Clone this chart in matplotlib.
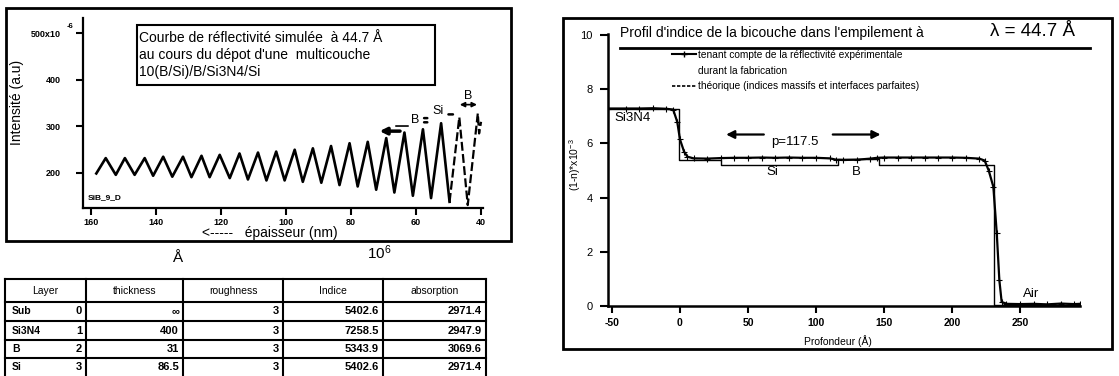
import matplotlib.pyplot as plt
from matplotlib.lines import Line2D
from matplotlib.patches import Rectangle

plt.rcParams['font.family'] = ['Liberation Sans', 'DejaVu Sans']
plt.rcParams['mathtext.default'] = 'regular'

W, H = 1119, 376

# left: simulated reflectivity vs thickness (peaks / troughs)
ep_nm = [158.4, 155.5, 152.4, 149.6, 146.6, 143.5, 140.9, 137.8, 135.0, 131.7,
         129.1, 126.0, 123.5, 120.4, 117.3, 114.3, 111.7, 108.6, 106.0, 103.0,
         100.4, 97.3, 94.8, 91.7, 89.1, 86.1, 83.5, 80.4, 77.9, 74.8,
         72.2, 69.1, 66.6, 63.5, 60.9, 57.8, 55.3, 52.2, 49.6, 46.6,
         44.0, 40.9, 40.5, 39.9]
intens = [199, 232, 196, 232, 196, 232, 194, 235, 192, 235,
          191, 237, 191, 239, 189, 242, 186, 244, 184, 246,
          184, 250, 181, 253, 179, 258, 174, 264, 171, 267,
          164, 275, 158, 287, 151, 294, 146, 307, 138, 320,
          131, 328, 285, 310]
n_solid = 39  # last points drawn dashed

xticks_l = [160, 140, 120, 100, 80, 60, 40]
yticks_l = [200, 300, 400, 500]
ylabels_l = ['200', '300', '400', '500x10']

# right: index profile
depth_exp = [-53, -40, -30, -20, -10, -5, -2, 0, 3, 5.5, 10, 20, 30, 40, 50, 60,
             70, 80, 90, 100, 110, 115, 120, 130, 140, 145, 150, 160, 170, 180,
             190, 200, 210, 220, 224, 227, 230.4, 232.9, 234.8, 236.5, 240, 250,
             260, 270, 280, 290, 294]
ind_exp = [7.29, 7.29, 7.29, 7.30, 7.28, 7.25, 6.8, 6.15, 5.7, 5.51, 5.45, 5.44,
           5.46, 5.47, 5.47, 5.48, 5.47, 5.48, 5.47, 5.47, 5.45, 5.40, 5.39, 5.40,
           5.44, 5.47, 5.48, 5.48, 5.48, 5.48, 5.48, 5.48, 5.47, 5.44, 5.37, 5.0,
           4.4, 2.69, 0.96, 0.15, 0.08, 0.07, 0.08, 0.06, 0.09, 0.07, 0.08]
depth_th = [-53, -1, 30, 116, 146, 231, 294]
ind_th = [7.29, 5.39, 5.20, 5.42, 5.20, 0.05, 0.05]
xticks_r = [-50, 0, 50, 100, 150, 200, 250]
yticks_r = [0, 2, 4, 6, 8, 10]

# table
tab_head = ['Layer', 'thickness', 'roughness', 'Indice', 'absorption']
layers = ['Sub', 'Si3N4', 'B', 'Si']
layer_num = ['0', '1', '2', '3']
thickness = ['\u221e', '400', '31', '86.5']
roughness = ['3', '3', '3', '3']
indice = ['5402.6', '7258.5', '5343.9', '5402.6']
absorption = ['2971.4', '2947.9', '3069.6', '2971.4']

fig = plt.figure(figsize=(W / 100, H / 100), dpi=100)

# ---- left chart
axL = fig.add_axes([83 / W, 1 - 208 / H, 400 / W, 190 / H], facecolor='none')
axL.plot(ep_nm[:n_solid], intens[:n_solid], color='k', lw=1.9)
axL.plot(ep_nm[n_solid - 1:], intens[n_solid - 1:], color='k', lw=1.6, ls=(0, (4, 1.5)))
axL.set_xlim(162.5, 39.3)
axL.set_ylim(124.7, 533.3)
axL.set_xticks(xticks_l)
axL.set_xticklabels([str(t) for t in xticks_l], fontsize=6.5, fontweight='bold')
axL.set_yticks(yticks_l)
axL.set_yticklabels(ylabels_l, fontsize=6.5, fontweight='bold')
axL.tick_params(axis='y', direction='out', length=5, width=1.5, pad=11)
axL.tick_params(axis='x', direction='out', length=5, width=1.5, pad=2)
for s in ['top', 'right']:
    axL.spines[s].set_visible(False)
for s in ['left', 'bottom']:
    axL.spines[s].set_linewidth(1.6)

# layer arrows on the curve
axL.annotate('', xy=(72, 290), xytext=(64, 290),
             arrowprops=dict(arrowstyle='-|>', lw=2.5, color='k', mutation_scale=10))
axL.annotate('', xy=(67, 301), xytext=(61.5, 301), arrowprops=dict(arrowstyle='-', lw=1.2))
axL.text(60.1, 314, 'B', ha='center', va='center', fontsize=9)
axL.annotate('', xy=(58.3, 318), xytext=(55.6, 318), arrowprops=dict(arrowstyle='-', lw=1.8))
axL.annotate('', xy=(58.3, 309), xytext=(55.6, 309), arrowprops=dict(arrowstyle='-', lw=1.8))
axL.text(53.2, 334, 'Si', ha='center', va='center', fontsize=9)
axL.annotate('', xy=(50.8, 326), xytext=(47.7, 326), arrowprops=dict(arrowstyle='-', lw=1.8))
axL.text(44, 365, 'B', ha='center', va='center', fontsize=9)
axL.annotate('', xy=(47.3, 347), xytext=(40.3, 347),
             arrowprops=dict(arrowstyle='<|-|>', lw=1.2, color='k', mutation_scale=7))

# ---- right chart
axR = fig.add_axes([608 / W, 1 - 306 / H, 472 / W, 272 / H], facecolor='none')
axR.plot(depth_th, ind_th, color='k', lw=1.0, drawstyle='steps-post')
axR.plot(depth_exp, ind_exp, color='k', lw=1.6, marker='+', markersize=4, mew=0.8)
axR.set_xlim(-52.9, 294.1)
axR.set_ylim(0, 10.04)
axR.set_xticks(xticks_r)
axR.set_xticklabels([str(t) for t in xticks_r], fontsize=7.5, fontweight='bold')
axR.set_yticks(yticks_r)
axR.set_yticklabels([str(t) for t in yticks_r], fontsize=8)
axR.tick_params(axis='y', direction='out', length=6, width=1.5, pad=5)
axR.tick_params(axis='x', direction='out', length=5, width=1.5, pad=4)
for s in ['top', 'right']:
    axR.spines[s].set_visible(False)
for s in ['left', 'bottom']:
    axR.spines[s].set_linewidth(1.8)
axR.set_xlabel('Profondeur (\u00c5)', fontsize=7.5)
axR.xaxis.set_label_coords((838 - 608) / 472, (306 - 335) / 272)

axR.annotate('', xy=(31.9, 6.33), xytext=(63.7, 6.33),
             arrowprops=dict(arrowstyle='-|>', lw=1.6, color='k', mutation_scale=12))
axR.annotate('', xy=(149.5, 6.33), xytext=(110.3, 6.33),
             arrowprops=dict(arrowstyle='-|>', lw=1.6, color='k', mutation_scale=12))
axR.text(84.2, 6.06, 'p=117.5', ha='center', va='center', fontsize=9.5)
axR.text(-48, 6.94, 'Si3N4', ha='left', va='center', fontsize=9.5)
axR.text(67.6, 4.93, 'Si', ha='center', va='center', fontsize=9.5)
axR.text(129.9, 4.93, 'B', ha='center', va='center', fontsize=9.5)
axR.text(252, 0.44, 'Air', ha='left', va='center', fontsize=9.5)

h1 = Line2D([], [], color='k', lw=1.5, marker='+', markersize=5)
h2 = Line2D([], [], color='none')
h3 = Line2D([], [], color='k', lw=1.2, ls=(0, (2, 1)))
axR.legend([h1, h2, h3],
           ['tenant compte de la r\u00e9flectivit\u00e9 exp\u00e9rimentale',
            'durant la fabrication',
            'th\u00e9orique (indices massifs et interfaces parfaites)'],
           loc='upper left', bbox_to_anchor=((672 - 608) / 472, (306 - 50) / 272),
           frameon=False, fontsize=7.3, handlelength=2.4, handletextpad=0.2,
           labelspacing=0.55, borderpad=0, borderaxespad=0)

# ---- overlay in pixel coordinates: frames, titles, table
ov = fig.add_axes([0, 0, 1, 1])
ov.set_xlim(0, W)
ov.set_ylim(H, 0)
ov.axis('off')

ov.add_patch(Rectangle((6, 8), 505, 233, fill=False, lw=2))
ov.add_patch(Rectangle((563, 18), 549, 331, fill=False, lw=2))

ov.add_patch(Rectangle((137, 25), 298, 60, fill=False, lw=1.5))
box_lines = ['Courbe de r\u00e9flectivit\u00e9 simul\u00e9e  \u00e0 44.7 \u00c5',
             "au cours du d\u00e9pot d'une  multicouche",
             '10(B/Si)/B/Si3N4/Si']
for i, t in enumerate(box_lines):
    ov.text(139, 38 + 16.8 * i, t, ha='left', va='center', fontsize=10)

ov.text(17, 102, 'Intensit\u00e9 (a.u)', rotation=90, ha='center', va='center', fontsize=10)
ov.text(70, 26, '-6', ha='center', va='center', fontsize=5.5, fontweight='bold')
ov.text(88, 198, 'SiB_9_D', ha='left', va='center', fontsize=6, fontweight='bold')
ov.text(202, 233, '<-----   \u00e9paisseur (nm)', ha='left', va='center', fontsize=10)
ov.text(177, 258, '\u00c5', ha='center', va='center', fontsize=11)
ov.text(367, 253, r'10$^{6}$', ha='left', va='center', fontsize=11)

ov.text(620, 33, "Profil d'indice de la bicouche dans l'empilement \u00e0",
        ha='left', va='center', fontsize=10)
ov.text(990, 32, '\u03bb = 44.7 \u00c5', ha='left', va='center', fontsize=13.5)
ov.plot([620, 1090], [48, 48], color='k', lw=2)
ov.text(575, 165, r'(1-n)*x10$^{-3}$', rotation=90, ha='center', va='center', fontsize=7.5)

col_x = [5, 86, 183, 283, 383, 486]
row_y = [279, 302, 321, 340, 358, 377]
for x in col_x:
    ov.plot([x, x], [row_y[0], H], color='k', lw=1.5)
for y in row_y[:-1]:
    ov.plot([col_x[0], col_x[-1]], [y, y], color='k', lw=1.5)
for j, t in enumerate(tab_head):
    ov.text((col_x[j] + col_x[j + 1]) / 2, 291, t, ha='center', va='center', fontsize=7.5)
cols = [thickness, roughness, indice, absorption]
for i in range(len(layers)):
    yc = (row_y[i + 1] + row_y[i + 2]) / 2
    ov.text(12, yc, layers[i], ha='left', va='center', fontsize=7.5, fontweight='bold')
    ov.text(82, yc, layer_num[i], ha='right', va='center', fontsize=8, fontweight='bold')
    for j, c in enumerate(cols):
        ov.text(col_x[j + 2] - 4, yc, c[i], ha='right', va='center', fontsize=8,
                fontweight='bold')

fig.savefig('out.png', dpi=100)
